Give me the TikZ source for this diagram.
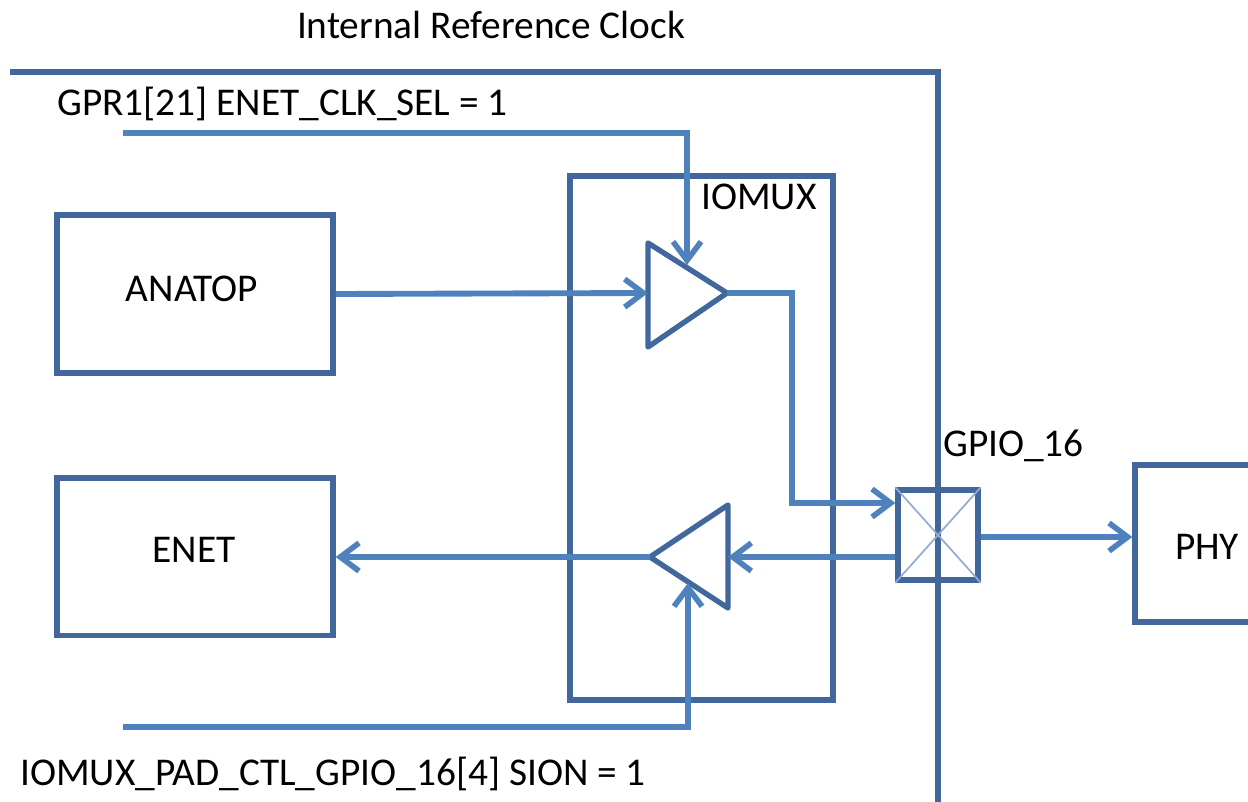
\documentclass[tikz,border=0pt]{standalone}
\usepackage{fontspec}
\setmainfont{Carlito}
\usetikzlibrary{arrows.meta,calc}
\definecolor{boxblue}{HTML}{41679C}
\definecolor{arrblue}{HTML}{4F81BD}
\definecolor{xblue}{HTML}{93ACD3}
\tikzset{
  blk/.style={draw=boxblue, line width=4pt, inner sep=0pt},
  lbl/.style={font=\fontsize{29.5}{34}\selectfont, inner sep=0pt, text=black},
  conn/.style={draw=arrblue, line width=4.4pt},
  arr/.style={conn, -{Straight Barb[length=14pt,width=21pt,line width=4.2pt]}},
  buf/.style={draw=boxblue, line width=4pt, line join=round},
}
\begin{document}
\begin{tikzpicture}[x=0.75pt,y=-0.75pt]
\useasboundingbox (0,0) rectangle (1248,802);
\clip (0,0) rectangle (1248,802);
% chip boundary
\coordinate (cb1) at (10,72);
\coordinate (cb2) at (938,72);
\coordinate (cb3) at (938,810);
\draw[blk] (cb1) -- (cb2) -- (cb3);
% blocks
\node[blk, minimum width=207pt, minimum height=118.5pt] (anatop) at (195,294) {};
\node[lbl] at (192,289) {ANATOP};
\node[blk, minimum width=207pt, minimum height=118pt] (enet) at (195,556.5) {};
\node[lbl] at (194,550) {ENET};
\node[blk, minimum width=197.25pt, minimum height=393pt] (iomux) at (701.5,438) {};
\node[lbl] (iomuxl) at (759,197) {IOMUX};
\node[blk, minimum width=101.25pt, minimum height=117.75pt] (phy) at (1202.5,543.5) {};
\node[lbl] at (1207,547) {PHY};
% labels
\node[lbl] (irc) at (491,25) {Internal Reference Clock};
\node[lbl, anchor=west] (gpr) at (57,104) {GPR1[21] ENET\_CLK\_SEL = 1};
\node[lbl, anchor=west] (sion) at (20,774) {IOMUX\_PAD\_CTL\_GPIO\_16[4] SION = 1};
\node[lbl, anchor=west] (gpiol) at (943,446) {GPIO\_16};
% buffers
\coordinate (t1a) at (648,243);
\coordinate (t1b) at (648,347);
\coordinate (t1o) at (727,293);
\coordinate (t1i) at (648,293);
\draw[buf] (t1a) -- (t1o) -- (t1b) -- cycle;
\coordinate (t2a) at (728,505);
\coordinate (t2b) at (728,608);
\coordinate (t2o) at (650,557);
\coordinate (t2i) at (728,557);
\draw[buf] (t2a) -- (t2o) -- (t2b) -- cycle;
% pad
\node[draw=boxblue, line width=4pt, minimum width=60pt, minimum height=67.5pt, inner sep=0pt] (pad) at (938,535) {};
\draw[xblue, line width=1.3pt] (pad.north west) -- (pad.south east) (pad.north east) -- (pad.south west);
% connectors
\coordinate (g0) at (123,133);
\coordinate (g1) at (687,133);
\coordinate (g2) at (687,265);
\draw[arr] (g0) -- (g1) -- (g2);
\draw[arr] (anatop.east) -- (t1i);
\coordinate (o1) at (792,293);
\coordinate (o2) at (792,503);
\coordinate (o3) at (pad.west |- o2);
\draw[arr] (t1o) -- (o1) -- (o2) -- (o3);
\draw[arr] (pad.east |- 0,537) -- (phy.west |- 0,537);
\draw[arr] (pad.west |- 0,557) -- (t2i);
\draw[arr] (t2o) -- (enet.east |- t2o);
\coordinate (s0) at (123,727);
\coordinate (s1) at (688,727);
\coordinate (s2) at (688,583);
\draw[arr] (s0) -- (s1) -- (s2);
\end{tikzpicture}
\end{document}
